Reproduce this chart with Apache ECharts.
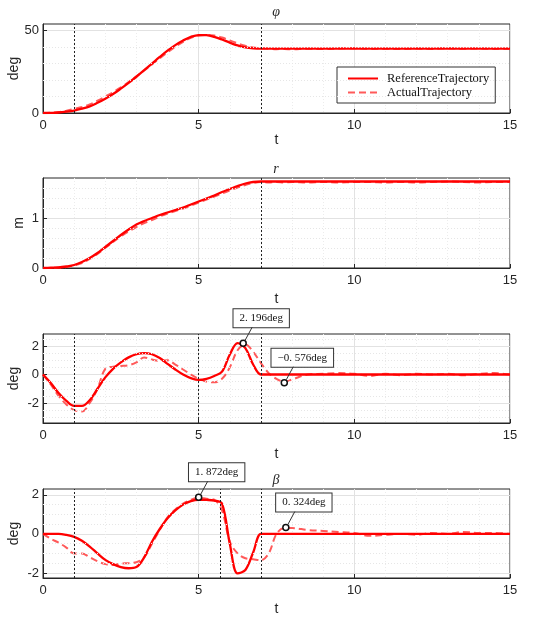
<!DOCTYPE html>
<html>
<head>
<meta charset="UTF-8">
<title>Trajectory tracking</title>
<script src="https://cdn.jsdelivr.net/npm/echarts@6/dist/echarts.min.js"></script>
<style>
    html, body {margin: 0; padding: 0; background: #fff;}
    #main {width: 550px; height: 626px;}
</style>
</head>
<body>
<div id="main"></div>
<script type="text/javascript">

    // time samples (s)
    var T = [0, 0.25, 0.5, 0.75, 1, 1.25, 1.5, 1.75, 2, 2.25, 2.5, 2.75, 3, 3.25, 3.5, 3.75,
        4, 4.25, 4.5, 4.75, 5, 5.25, 5.5, 5.75, 6, 6.25, 6.5, 6.75, 7, 7.25, 7.5, 7.75, 8,
        8.5, 9, 9.5, 10, 10.5, 11, 11.5, 12, 12.5, 13, 13.5, 14, 14.5, 15];

    // phi (deg)
    var phiRef = [0, 0.1, 0.3, 0.8, 1.5, 2.6, 4, 6.2, 8.7, 11.5, 14.8, 18.3, 22, 26, 30, 34,
        37.8, 41.2, 44, 46.2, 47.3, 47.2, 46.2, 44.6, 42.7, 41, 39.8, 39.2, 39, 39, 39, 39, 39,
        39, 39, 39, 39, 39, 39, 39, 39, 39, 39, 39, 39, 39, 39];
    var phiAct = [0, 0.2, 0.6, 1.4, 2.5, 3.6, 5.2, 7.5, 10, 12.6, 15.5, 18.8, 22.3, 25.8, 29.5, 33.2,
        36.8, 40.3, 43.2, 45.6, 47, 47.4, 47, 45.8, 44, 42.3, 40.8, 39.8, 39.3, 39, 38.7, 38.9, 38.6,
        39, 38.8, 39.1, 39.3, 38.9, 39, 38.8, 39.1, 38.9, 39.3, 39, 39.2, 38.9, 39];

    // r (m)
    var rRef = [0, 0.005, 0.01, 0.03, 0.06, 0.12, 0.2, 0.3, 0.42, 0.54, 0.66, 0.77, 0.87, 0.94, 1.0, 1.06,
        1.11, 1.16, 1.21, 1.27, 1.33, 1.39, 1.45, 1.52, 1.58, 1.64, 1.69, 1.72, 1.73, 1.73, 1.73, 1.73, 1.73,
        1.73, 1.73, 1.73, 1.73, 1.73, 1.73, 1.73, 1.73, 1.73, 1.73, 1.73, 1.73, 1.73, 1.73];
    var rAct = [0, 0, 0.01, 0.02, 0.05, 0.1, 0.18, 0.28, 0.4, 0.52, 0.63, 0.73, 0.82, 0.9, 0.96, 1.03,
        1.09, 1.14, 1.19, 1.25, 1.31, 1.37, 1.43, 1.49, 1.55, 1.61, 1.66, 1.7, 1.72, 1.71, 1.72, 1.71, 1.72,
        1.71, 1.72, 1.71, 1.72, 1.72, 1.71, 1.72, 1.71, 1.72, 1.73, 1.72, 1.71, 1.72, 1.72];

    // third angle (deg)
    var angRef = [0, -0.6, -1.3, -1.85, -2.2, -2.2, -1.8, -1.0, -0.2, 0.4, 0.85, 1.2, 1.42, 1.5, 1.42, 1.15,
        0.75, 0.35, 0, -0.25, -0.38, -0.3, -0.1, 0.2, 1.4, 2.2, 1.85, 0.7, 0, 0, 0, 0, 0,
        0, 0, 0, 0, 0, 0, 0, 0, 0, 0, 0, 0, 0, 0];
    var angAct = [0, -0.7, -1.5, -2.1, -2.5, -2.6, -2.0, -1.0, 0.4, 0.55, 0.6, 0.65, 0.85, 1.2, 1.05, 0.95,
        1.0, 0.7, 0.35, 0, -0.3, -0.5, -0.55, -0.3, 0.5, 1.7, 2.1, 1.6, 0.8, 0.1, -0.3, -0.5, -0.35,
        0, 0.05, 0.1, 0.05, -0.1, 0.05, -0.05, 0.05, 0, 0.05, -0.05, 0.05, 0.1, 0];

    // beta (deg)
    var betaRef = [0, 0, 0, -0.05, -0.15, -0.35, -0.65, -1.0, -1.33, -1.55, -1.7, -1.76, -1.7, -1.2, -0.4, 0.25,
        0.8, 1.2, 1.5, 1.68, 1.75, 1.74, 1.71, 1.55, -0.5, -2.02, -1.85, -0.95, 0, 0, 0, 0, 0,
        0, 0, 0, 0, 0, 0, 0, 0, 0, 0, 0, 0, 0, 0];
    var betaAct = [0, -0.25, -0.45, -0.7, -1.0, -1.0, -1.2, -1.4, -1.55, -1.6, -1.52, -1.5, -1.45, -1.2, -0.5, 0.2,
        0.85, 1.25, 1.55, 1.75, 1.85, 1.8, 1.75, 1.2, -0.4, -1.0, -1.25, -1.3, -1.35, -1.0, 0.0, 0.3, 0.3,
        0.2, 0.15, 0.1, 0.05, -0.1, -0.05, 0, -0.05, 0.05, 0, 0.1, 0.05, 0.05, 0];

    // per-subplot axis settings
    var titles = ['φ', 'r', '', 'β'];
    var titleGap = [12, 9, 9, 9];
    var yNames = ['deg', 'm', 'deg', 'deg'];
    var yMin = [0, 0, -3.4, -2.26];
    var yMax = [54, 1.8, 2.84, 2.3];
    var yTicks = [[0, 50], [0, 1], [-2, 0, 2], [-2, 0, 2]];
    var yMinor = [[10, 20, 30, 40], [0.2, 0.4, 0.6, 0.8, 1.2, 1.4, 1.6],
        [-3, -2.5, -1.5, -1, -0.5, 0.5, 1, 1.5, 2.5], [-1.5, -1, -0.5, 0.5, 1, 1.5]];
    var phaseLines = [[1, 7], [7], [1, 5, 7], [1, 5.7, 7]];

    // data tips
    var callouts = [
        {plot: 2, t: 6.43, v: 2.196, text: '2. 196deg'},
        {plot: 2, t: 7.75, v: -0.576, text: '−0. 576deg'},
        {plot: 3, t: 5.0, v: 1.872, text: '1. 872deg'},
        {plot: 3, t: 7.8, v: 0.324, text: '0. 324deg'}
    ];

    var refData = [phiRef, rRef, angRef, betaRef];
    var actData = [phiAct, rAct, angAct, betaAct];

    var gridTop = [24, 178, 334, 489];
    var gridHeight = [89, 90, 89, 89];
    var tNameGap = [20, 24, 24, 24];
    var yNameGap = [22, 17, 22, 22];

    function pairs(ys) {
        return T.map(function (t, i) { return [t, ys[i]]; });
    }

    var grids = [], xAxes = [], yAxes = [], series = [], graphics = [];

    for (var i = 0; i < 4; i++) {
        grids.push({
            left: 43, right: 40, top: gridTop[i], height: gridHeight[i],
            containLabel: false, outerBoundsMode: 'none',
            show: true, borderColor: '#262626', borderWidth: 1, backgroundColor: '#fff'
        });
        xAxes.push({
            type: 'value', gridIndex: i, min: 0, max: 15, interval: 5,
            name: 't', nameLocation: 'middle', nameGap: tNameGap[i], nameMoveOverlap: false,
            nameTextStyle: {fontFamily: 'Liberation Sans', fontSize: 14, color: '#262626'},
            axisLine: {show: true, onZero: false, lineStyle: {color: '#262626'}},
            axisTick: {inside: true, length: 4, lineStyle: {color: '#262626'}},
            axisLabel: {margin: 6, fontFamily: 'Liberation Sans', fontSize: 13, color: '#262626'},
            splitLine: {show: true, lineStyle: {color: '#e2e2e2', width: 1}},
            minorTick: {show: false, splitNumber: 5},
            minorSplitLine: {show: true, lineStyle: {color: '#ececec', type: [1, 2]}}
        });
        yAxes.push({
            type: 'value', gridIndex: i, min: yMin[i], max: yMax[i],
            name: yNames[i], nameLocation: 'middle', nameGap: yNameGap[i], nameMoveOverlap: false,
            nameTextStyle: {fontFamily: 'Liberation Sans', fontSize: 14, color: '#262626'},
            axisLine: {show: true, onZero: false, lineStyle: {color: '#262626'}},
            axisTick: {inside: true, length: 4, customValues: yTicks[i], lineStyle: {color: '#262626'}},
            axisLabel: {margin: 4, customValues: yTicks[i], fontFamily: 'Liberation Sans', fontSize: 13, color: '#262626'},
            splitLine: {show: true, lineStyle: {color: '#e2e2e2', width: 1}}
        });

        // minor horizontal grid
        series.push({
            type: 'line', xAxisIndex: i, yAxisIndex: i, data: [], silent: true, z: 1,
            markLine: {
                silent: true, symbol: 'none', animation: false,
                label: {show: false},
                lineStyle: {color: '#e6e6e6', type: [1, 2], width: 1},
                data: yMinor[i].map(function (v) { return {yAxis: v}; })
            }
        });

        series.push({
            name: 'ReferenceTrajectory', type: 'line', xAxisIndex: i, yAxisIndex: i,
            data: pairs(refData[i]), symbol: 'none', smooth: 0.35, z: 4,
            lineStyle: {color: '#ff0000', width: 2.3},
            itemStyle: {color: '#ff0000'},
            markLine: {
                silent: true, symbol: 'none', animation: false,
                label: {show: false},
                lineStyle: {color: '#222', type: [2, 2], width: 1},
                data: phaseLines[i].map(function (x) { return {xAxis: x}; })
            }
        });

        var tips = callouts.filter(function (c) { return c.plot === i; });
        series.push({
            name: 'ActualTrajectory', type: 'line', xAxisIndex: i, yAxisIndex: i,
            data: pairs(actData[i]), symbol: 'none', smooth: 0.35, z: 3,
            lineStyle: {color: '#ff5a5a', width: 2, type: [7, 4]},
            itemStyle: {color: '#ff5a5a'},
            markPoint: {
                symbol: 'circle', symbolSize: 6, animation: false,
                itemStyle: {color: '#fff', borderColor: '#111', borderWidth: 1.5},
                data: tips.map(function (c) {
                    return {
                        coord: [c.t, c.v],
                        label: {
                            show: true, formatter: c.text, position: 'inside', offset: [18, -25],
                            fontFamily: 'Liberation Serif', fontSize: 11, color: '#111',
                            backgroundColor: '#fff', borderColor: '#333', borderWidth: 1,
                            padding: [4, 6, 3, 6]
                        }
                    };
                })
            }
        });

        if (titles[i]) {
            graphics.push({
                type: 'text', x: 276, y: gridTop[i] - titleGap[i], z: 10,
                style: {
                    text: titles[i], textAlign: 'center', textVerticalAlign: 'middle',
                    font: 'italic 14px "Liberation Serif"', fill: '#262626'
                }
            });
        }
    }

    var myChart = echarts.init(document.getElementById('main'));
    myChart.setOption({
        animation: false,
        backgroundColor: '#fff',
        grid: grids,
        xAxis: xAxes,
        yAxis: yAxes,
        legend: {
            data: ['ReferenceTrajectory', 'ActualTrajectory'],
            orient: 'vertical', left: 337, top: 67,
            backgroundColor: '#fff', borderColor: '#333', borderWidth: 1,
            padding: [5, 6, 4, 10], itemGap: 1, itemWidth: 30, itemHeight: 10,
            itemStyle: {color: 'transparent', borderWidth: 0, opacity: 0},
            textStyle: {fontFamily: 'Liberation Serif', fontSize: 12.5, color: '#111', padding: [0, 0, 0, 4]}
        },
        series: series,
        graphic: graphics
    });

    // leader lines of the data tips
    callouts.forEach(function (c) {
        var p = myChart.convertToPixel({gridIndex: c.plot}, [c.t, c.v]);
        graphics.push({
            type: 'line', z: 20, silent: true,
            shape: {x1: p[0] + 2, y1: p[1] - 3, x2: p[0] + 9, y2: p[1] - 16},
            style: {stroke: '#333', lineWidth: 1}
        });
    });
    myChart.setOption({graphic: graphics});

</script>
</body>
</html>
